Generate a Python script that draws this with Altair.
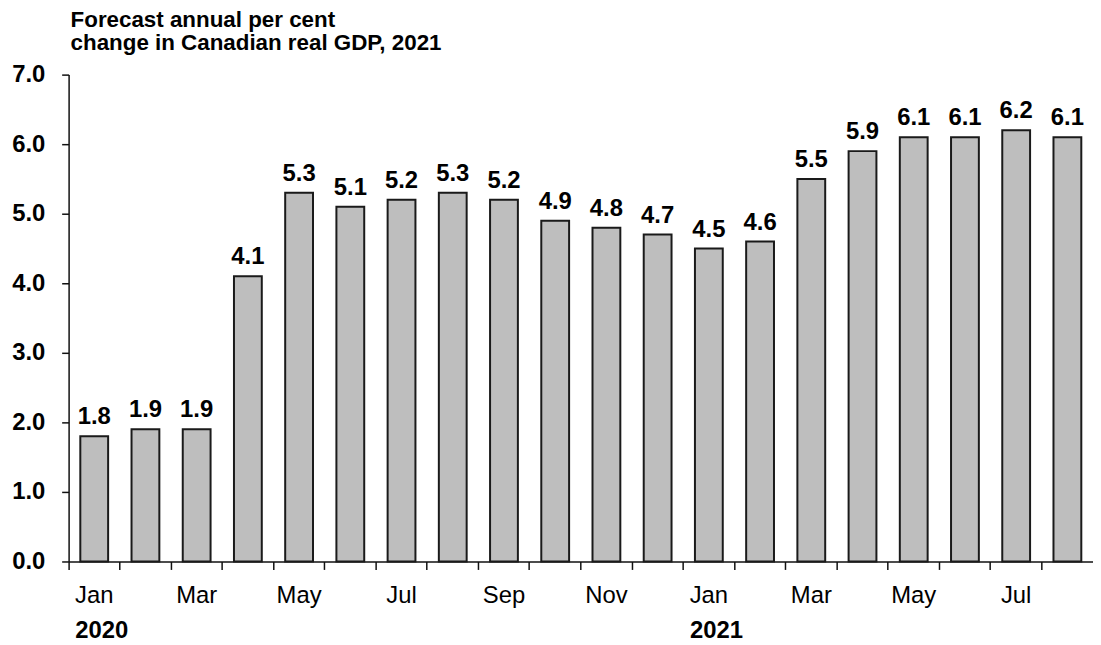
import altair as alt
import pandas as pd

periods = [
    "Jan 2020", "Feb 2020", "Mar 2020", "Apr 2020", "May 2020", "Jun 2020",
    "Jul 2020", "Aug 2020", "Sep 2020", "Oct 2020", "Nov 2020", "Dec 2020",
    "Jan 2021", "Feb 2021", "Mar 2021", "Apr 2021", "May 2021", "Jun 2021",
    "Jul 2021", "Aug 2021",
]
values = [1.8, 1.9, 1.9, 4.1, 5.3, 5.1, 5.2, 5.3, 5.2, 4.9,
          4.8, 4.7, 4.5, 4.6, 5.5, 5.9, 6.1, 6.1, 6.2, 6.1]
shown_months = ["Jan", "Mar", "May", "Jul", "Sep", "Nov"]
year_labels = ["2020", "2021"]
year_positions = ["Jan 2020", "Jan 2021"]
y_ticks = [0, 1, 2, 3, 4, 5, 6, 7]
title_lines = ["Forecast annual per cent", "change in Canadian real GDP, 2021"]

FONT = "Liberation Sans"
W = 1031
H = 490

df = pd.DataFrame({"period": periods, "value": values})
years_df = pd.DataFrame({"period": year_positions, "year": year_labels})

months_js = "[" + ",".join("'%s'" % m for m in shown_months) + "]"
label_expr = (
    "indexof(%s, slice(datum.value, 0, 3)) >= 0 ? slice(datum.value, 0, 3) : ''"
    % months_js
)

x_enc = alt.X(
    "period:N",
    sort=periods,
    scale=alt.Scale(paddingInner=0, paddingOuter=0),
    axis=alt.Axis(
        title=None,
        labelExpr=label_expr,
        labelAngle=0,
        bandPosition=0,
        tickSize=8,
        tickWidth=1.5,
        tickColor="#111111",
        domainColor="#111111",
        domainWidth=1.5,
        labelFont=FONT,
        labelFontSize=24,
        labelColor="#000000",
        labelPadding=14,
    ),
)

y_enc = alt.Y(
    "value:Q",
    scale=alt.Scale(domain=[0, 7], nice=False),
    axis=alt.Axis(
        title=None,
        values=y_ticks,
        format=".1f",
        grid=False,
        tickSize=7,
        tickWidth=1.5,
        tickColor="#111111",
        domainColor="#111111",
        domainWidth=1.5,
        labelFont=FONT,
        labelFontSize=24,
        labelFontWeight="bold",
        labelColor="#000000",
        labelPadding=17,
    ),
)

bars = alt.Chart(df).mark_bar(
    width=28,
    color="#bebebe",
    stroke="#1a1a1a",
    strokeWidth=2,
).encode(x=x_enc, y=y_enc)

labels = alt.Chart(df).mark_text(
    dy=-12,
    baseline="alphabetic",
    align="center",
    font=FONT,
    fontSize=24,
    fontWeight="bold",
    color="#000000",
).encode(
    x=alt.X("period:N", sort=periods),
    y=alt.Y("value:Q"),
    text=alt.Text("value:Q", format=".1f"),
)

years = alt.Chart(years_df).mark_text(
    dx=-19,
    baseline="alphabetic",
    align="left",
    font=FONT,
    fontSize=24,
    fontWeight="bold",
    color="#000000",
).encode(
    x=alt.X("period:N", sort=periods),
    y=alt.value(H + 77),
    text="year:N",
)

chart = (
    alt.layer(bars, labels, years)
    .properties(
        width=W,
        height=H,
        autosize=alt.AutoSizeParams(type="none"),
        padding={"left": 61, "top": 65, "right": 0, "bottom": 80},
        title=alt.TitleParams(
            text=title_lines,
            anchor="start",
            frame="group",
            font=FONT,
            fontSize=22.5,
            fontWeight="bold",
            color="#000000",
            lineHeight=23,
            dx=2,
            offset=8,
        ),
    )
    .configure_view(stroke=None)
)

chart.save("out.html", embed_options={"renderer": "svg", "actions": False})
